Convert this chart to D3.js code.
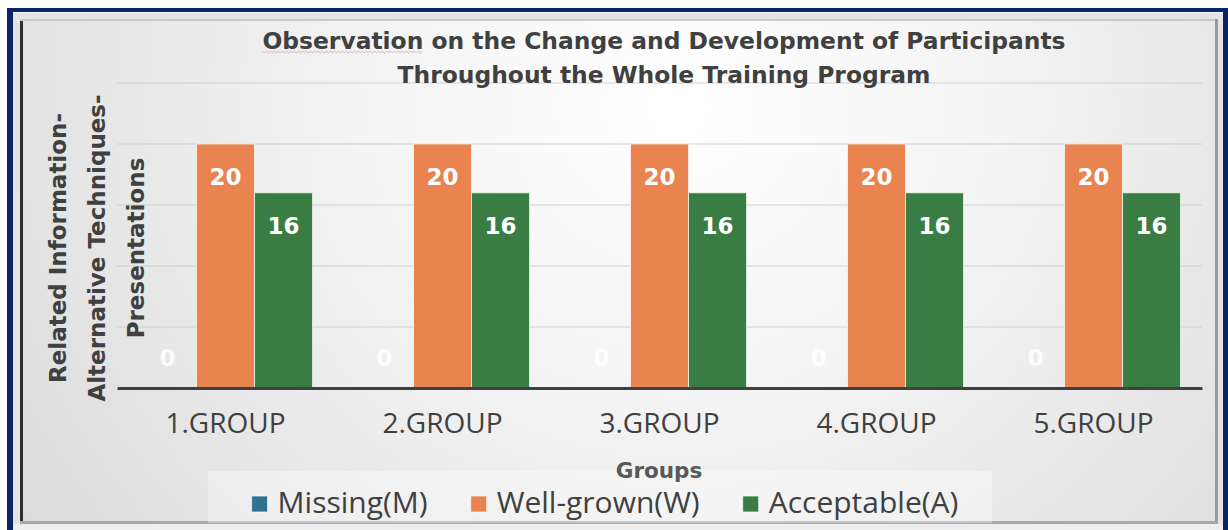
<!DOCTYPE html>
<html>
<head>
<meta charset="utf-8">
<script src="https://cdn.jsdelivr.net/npm/d3@7"></script>
<style>
  html, body { margin: 0; padding: 0; background: #ffffff; }
  svg { display: block; }
  text { font-family: "Open Sans", sans-serif; }
  text.bold { font-family: "DejaVu Sans", sans-serif; font-weight: 700; }
</style>
</head>
<body>
<svg id="chart" width="1228" height="530"></svg>
<script>
// ---- data ----
const groups = ["1.GROUP", "2.GROUP", "3.GROUP", "4.GROUP", "5.GROUP"];
const seriesNames = ["Missing(M)", "Well-grown(W)", "Acceptable(A)"];
const missing = [0, 0, 0, 0, 0];
const wellGrown = [20, 20, 20, 20, 20];
const acceptable = [16, 16, 16, 16, 16];
const seriesColors = ["#2f7191", "#e9834f", "#3a7d44"];
const yTicks = [0, 5, 10, 15, 20, 25];
const titleLines = ["Observation on the Change and Development of Participants",
                    "Throughout the Whole Training Program"];
const yTitleLines = ["Related Information-", "Alternative Techniques-", "Presentations"];
const xTitle = "Groups";

const seriesValues = [missing, wellGrown, acceptable];

const W = 1228, H = 530;
const svg = d3.select("#chart");
const defs = svg.append("defs");

// ---- frame & background ----
const grad = defs.append("radialGradient").attr("id", "panelBg")
  .attr("cx", "0.55").attr("cy", "0.18").attr("r", "0.75")
  .attr("gradientTransform", "translate(0.55,0.18) scale(1,2.2) translate(-0.55,-0.18)");
grad.append("stop").attr("offset", "0").attr("stop-color", "#ffffff");
grad.append("stop").attr("offset", "0.35").attr("stop-color", "#f4f4f4");
grad.append("stop").attr("offset", "1").attr("stop-color", "#d6d6d6");

svg.append("rect").attr("x", 7).attr("y", 8).attr("width", W - 7).attr("height", H - 8)
  .attr("fill", "#0b2466");
svg.append("rect").attr("x", 13).attr("y", 12).attr("width", 1210).attr("height", H - 12)
  .attr("fill", "#e4e4e4");
svg.append("line").attr("x1", 13).attr("x2", 1223).attr("y1", 12.5).attr("y2", 12.5)
  .attr("stroke", "#fafafa").attr("stroke-width", 1);
svg.append("rect").attr("x", 20).attr("y", 19).attr("width", 1198).attr("height", 504)
  .attr("fill", "url(#panelBg)");
// bevel edges of the inner panel
svg.append("rect").attr("x", 20).attr("y", 19).attr("width", 3).attr("height", 505).attr("fill", "#2e2e2e");
svg.append("rect").attr("x", 20).attr("y", 19).attr("width", 1198).attr("height", 2).attr("fill", "#c9c9c9");
svg.append("rect").attr("x", 1215).attr("y", 19).attr("width", 3).attr("height", 505).attr("fill", "#9a9a9a");
svg.append("rect").attr("x", 20).attr("y", 521).attr("width", 1198).attr("height", 3).attr("fill", "#a8a8a8");
svg.append("rect").attr("x", 13).attr("y", 524).attr("width", 1210).attr("height", 6).attr("fill", "#eeeeee");

// ---- scales ----
const plot = { left: 117, right: 1202, top: 83, bottom: 388 };
const y = d3.scaleLinear().domain([0, 25]).range([plot.bottom, plot.top]);
const x0 = d3.scaleBand().domain(groups).range([plot.left, plot.right]).padding(0);
const x1 = d3.scaleBand().domain(seriesNames).range([0, x0.bandwidth()])
  .paddingInner(0).paddingOuter(0.37);

// gridlines
svg.append("g")
  .selectAll("line").data(yTicks.filter(t => t > 0)).join("line")
  .attr("x1", plot.left).attr("x2", plot.right)
  .attr("y1", d => y(d)).attr("y2", d => y(d))
  .attr("stroke", "#cfcfcf").attr("stroke-width", 1.2);

// ---- bars ----
const cells = [];
groups.forEach((g, gi) => {
  seriesNames.forEach((s, si) => {
    cells.push({ group: g, series: s, si, value: seriesValues[si][gi] });
  });
});

const barG = svg.append("g");
barG.selectAll("rect").data(cells).join("rect")
  .attr("x", d => x0(d.group) + x1(d.series))
  .attr("width", x1.bandwidth())
  .attr("y", d => y(d.value))
  .attr("height", d => y(0) - y(d.value))
  .attr("fill", d => seriesColors[d.si])
  .attr("stroke", "rgba(255,255,255,0.7)")
  .attr("stroke-width", 1);

// baseline axis
const xAxis = svg.append("g").attr("transform", `translate(0,${plot.bottom})`)
  .call(d3.axisBottom(x0).tickSize(0).tickPadding(0));
xAxis.select(".domain").attr("stroke", "#404040").attr("stroke-width", 3);
xAxis.selectAll(".tick text")
  .attr("y", 45)
  .attr("dy", null)
  .attr("font-size", 28)
  .attr("font-family", "'Open Sans', sans-serif")
  .attr("fill", "#404040");

// value labels
svg.append("g").selectAll("text").data(cells).join("text")
  .attr("class", "bold")
  .attr("x", d => x0(d.group) + x1(d.series) + x1.bandwidth() / 2)
  .attr("y", d => d.value > 0 ? y(d.value) + 41 : y(0) - 22)
  .attr("text-anchor", "middle")
  .attr("font-size", 23)
  .attr("fill", "#ffffff")
  .attr("fill-opacity", d => d.value > 0 ? 1 : 0.9)
  .text(d => d.value);

// ---- title ----
const titleG = svg.append("g");
titleLines.forEach((t, i) => {
  titleG.append("text")
    .attr("class", "bold")
    .attr("x", 664).attr("y", 49 + i * 34)
    .attr("text-anchor", "middle")
    .attr("font-size", 23.4)
    .attr("fill", "#404040")
    .text(t);
});
// proofing squiggle under the first word of the title
{
  const firstLine = titleG.select("text").node();
  const wordLen = titleLines[0].indexOf(" ");
  const start = firstLine.getStartPositionOfChar(0).x;
  const end = firstLine.getEndPositionOfChar(wordLen - 1).x;
  const pts = d3.range(start, end, 2).map((px, i) => [px, 52 + (i % 2 ? 0.8 : -0.8)]);
  svg.append("path").attr("d", d3.line()(pts))
    .attr("fill", "none").attr("stroke", "#f0a8ac").attr("stroke-width", 1);
}

// ---- y-axis title ----
const yTitle = svg.append("g").attr("transform", "translate(0,248) rotate(-90)");
yTitleLines.forEach((t, i) => {
  yTitle.append("text")
    .attr("class", "bold")
    .attr("x", 0).attr("y", 66 + i * 39)
    .attr("text-anchor", "middle")
    .attr("font-size", 23)
    .attr("fill", "#404040")
    .text(t);
});

// ---- legend ----
svg.append("rect").attr("x", 208).attr("y", 471).attr("width", 784).attr("height", 52)
  .attr("fill", "#ffffff").attr("fill-opacity", 0.35);

// x-axis title
svg.append("text")
  .attr("class", "bold")
  .attr("x", 659).attr("y", 478)
  .attr("text-anchor", "middle")
  .attr("font-size", 21.5)
  .attr("fill", "#595959")
  .text(xTitle);

const legendG = svg.append("g");
const items = legendG.selectAll("g").data(seriesNames).join("g");
items.append("rect")
  .attr("width", 16).attr("height", 16).attr("y", 496)
  .attr("fill", (d, i) => seriesColors[i])
  .attr("stroke", "rgba(255,255,255,0.7)").attr("stroke-width", 1);
items.append("text")
  .attr("x", 26).attr("y", 513)
  .attr("font-size", 30)
  .attr("fill", "#404040")
  .text(d => d);
// lay out legend entries centred in the legend box
{
  const widths = items.nodes().map(n => 26 + d3.select(n).select("text").node().getComputedTextLength());
  const gap = 43;
  const total = d3.sum(widths) + gap * (widths.length - 1);
  let cx = 605 - total / 2;
  items.each(function (d, i) {
    d3.select(this).attr("transform", `translate(${cx},0)`);
    cx += widths[i] + gap;
  });
}
</script>
</body>
</html>
